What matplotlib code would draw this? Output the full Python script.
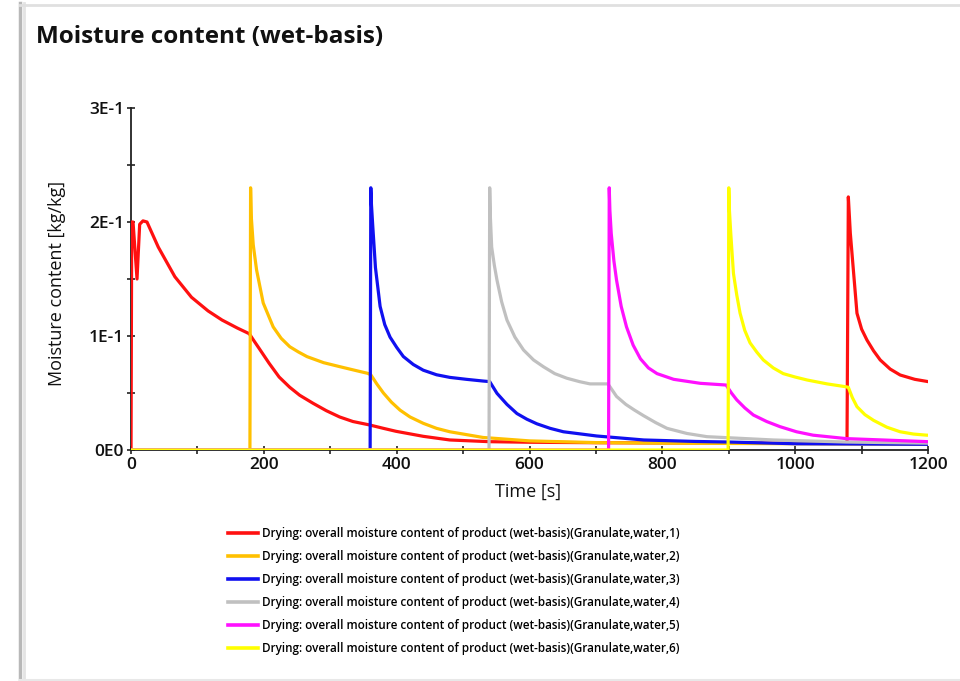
"""
Moisture content (wet-basis) of six granulate batches in a continuous dryer.
"""

import numpy as np
import matplotlib
matplotlib.use('Agg')
import matplotlib.pyplot as plt
from matplotlib.lines import Line2D

plt.rcParams['font.family'] = ['Open Sans', 'DejaVu Sans']

# ── 1. Data ───────────────────────────────────────────────────────────────────
t1 = [0, 1, 3, 9, 13, 18, 24, 41, 66, 91, 116, 137, 160, 178, 186, 193, 208,
      223, 239, 254, 274, 294, 314, 334, 359, 380, 399, 440, 480, 540, 600, 700,
      800, 900, 1000, 1078, 1080, 1083, 1093, 1100, 1108, 1118, 1128, 1143, 1158,
      1180, 1200]
y1 = [0, 0.200, 0.200, 0.150, 0.198, 0.201, 0.200, 0.178, 0.152, 0.134, 0.122,
      0.114, 0.107, 0.102, 0.095, 0.089, 0.076, 0.064, 0.055, 0.048, 0.041,
      0.0345, 0.029, 0.025, 0.022, 0.019, 0.0164, 0.012, 0.0088, 0.0073, 0.0068,
      0.0064, 0.0062, 0.006, 0.006, 0.006, 0.222, 0.190, 0.120, 0.106, 0.0965,
      0.087, 0.079, 0.071, 0.0658, 0.062, 0.060]

t2 = [0, 179, 180, 181, 184, 189, 199, 214, 226, 239, 252, 265, 290, 315, 340,
      356, 361, 370, 380, 392, 405, 420, 440, 460, 480, 530, 600, 700, 800, 1000,
      1200]
y2 = [0, 0, 0.230, 0.205, 0.180, 0.158, 0.129, 0.108, 0.098, 0.0906, 0.086,
      0.0819, 0.0766, 0.073, 0.0695, 0.0673, 0.066, 0.058, 0.050, 0.042, 0.035,
      0.029, 0.0234, 0.019, 0.016, 0.011, 0.008, 0.0065, 0.006, 0.0055, 0.005]

t3 = [0, 360, 361, 362, 364, 368, 375, 382, 390, 400, 410, 425, 440, 460, 480,
      505, 530, 540, 551, 566, 581, 596, 611, 631, 651, 701, 772, 850, 900, 1000,
      1200]
y3 = [0, 0, 0.230, 0.215, 0.196, 0.160, 0.126, 0.110, 0.099, 0.090, 0.082,
      0.075, 0.070, 0.066, 0.0637, 0.062, 0.0605, 0.060, 0.0497, 0.040, 0.032,
      0.027, 0.023, 0.019, 0.016, 0.0123, 0.0088, 0.0075, 0.007, 0.0055, 0.005]

t4 = [0, 539, 540, 541, 543, 547, 551, 558, 566, 578, 591, 606, 621, 638, 656,
      675, 691, 718, 724, 731, 745, 758, 772, 790, 807, 837, 867, 967, 1077, 1200]
y4 = [0, 0, 0.230, 0.205, 0.178, 0.162, 0.149, 0.130, 0.114, 0.099, 0.0877,
      0.079, 0.073, 0.067, 0.063, 0.060, 0.058, 0.058, 0.053, 0.047, 0.040,
      0.035, 0.030, 0.024, 0.019, 0.0145, 0.0117, 0.0088, 0.007, 0.006]

t5 = [0, 719, 720, 721, 723, 727, 731, 738, 746, 756, 767, 779, 792, 817, 857,
      896, 904, 912, 924, 937, 957, 977, 1002, 1027, 1077, 1200]
y5 = [0, 0, 0.230, 0.210, 0.190, 0.166, 0.149, 0.126, 0.108, 0.092, 0.080,
      0.072, 0.067, 0.062, 0.0585, 0.057, 0.050, 0.044, 0.037, 0.0307, 0.025,
      0.0205, 0.016, 0.013, 0.010, 0.0073]

t6 = [0, 899, 900, 901, 903, 907, 912, 917, 924, 932, 942, 952, 967, 982, 1000,
      1018, 1048, 1075, 1080, 1086, 1093, 1105, 1118, 1138, 1158, 1178, 1198,
      1200]
y6 = [0, 0, 0.230, 0.210, 0.190, 0.155, 0.136, 0.120, 0.105, 0.094, 0.086,
      0.079, 0.072, 0.067, 0.064, 0.0614, 0.058, 0.0556, 0.055, 0.046, 0.038,
      0.031, 0.026, 0.020, 0.016, 0.014, 0.013, 0.013]

times  = [t1, t2, t3, t4, t5, t6]
values = [y1, y2, y3, y4, y5, y6]
colors = ['#FF1010', '#FFC000', '#1010F0', '#C0C0C0', '#FF10FF', '#FFFF00']
labels = [f'Drying: overall moisture content of product (wet-basis)(Granulate,water,{i})'
          for i in range(1, 7)]

y_ticks  = [0, 0.1, 0.2, 0.3]
y_labels = ['0E0', '1E-1', '2E-1', '3E-1']
x_ticks  = [0, 200, 400, 600, 800, 1000, 1200]

# ── 2. Plot ───────────────────────────────────────────────────────────────────
fig = plt.figure(figsize=(9.6, 6.81), dpi=100)

# panel frame (screenshot border)
fig.add_artist(Line2D([0.021, 0.021], [0.0, 0.996], transform=fig.transFigure,
                      color='#b8b8b8', linewidth=2.5))
fig.add_artist(Line2D([0.025, 0.025], [0.0, 0.996], transform=fig.transFigure,
                      color='#e4e4e4', linewidth=2))
fig.add_artist(Line2D([0.021, 1.0], [0.993, 0.993], transform=fig.transFigure,
                      color='#e0e0e0', linewidth=2))
fig.add_artist(Line2D([0.021, 1.0], [0.002, 0.002], transform=fig.transFigure,
                      color='#e8e8e8', linewidth=1.5))

fig.text(0.038, 0.946, 'Moisture content (wet-basis)', fontsize=17.5,
         fontweight='bold', ha='left', va='center', color='#111111')

ax = fig.add_axes([0.1365, 0.3392, 0.8302, 0.5022])
for t, y, c, lab in zip(times, values, colors, labels):
    ax.plot(t, y, color=c, linewidth=2.3, label=lab, zorder=3)

ax.set_xlim(0, 1200)
ax.set_ylim(0, 0.3)
ax.set_xticks(x_ticks)
ax.set_xticks(np.arange(100, 1200, 200), minor=True)
ax.set_yticks(y_ticks)
ax.set_yticklabels(y_labels)
ax.set_yticks([0.05, 0.15, 0.25], minor=True)

for side in ['top', 'right']:
    ax.spines[side].set_visible(False)
for side in ['left', 'bottom']:
    ax.spines[side].set_linewidth(1.3)
    ax.spines[side].set_color('#222222')
ax.spines['bottom'].set_zorder(2)

ax.tick_params(which='both', direction='inout', length=6, width=1.2,
               color='#222222', labelcolor='#111111', pad=2)
for lbl in ax.get_xticklabels() + ax.get_yticklabels():
    lbl.set_fontsize(12.5)
    lbl.set_fontweight('semibold')

ax.set_xlabel('Time [s]', fontsize=13, color='#111111')
ax.set_ylabel('Moisture content [kg/kg]', fontsize=13, color='#111111')
ax.xaxis.set_label_coords(0.498, -0.095)
ax.yaxis.set_label_coords(-0.082, 0.488)

leg = fig.legend(loc='upper left', bbox_to_anchor=(0.2325, 0.2335),
                 frameon=False, prop={'size': 8.4, 'weight': 'semibold'},
                 handlelength=2.6, handletextpad=0.3, labelspacing=0.86,
                 borderaxespad=0)
for h in leg.get_lines():
    h.set_linewidth(2.6)

plt.savefig('out.png', dpi=100)
print("Saved: out.png")
